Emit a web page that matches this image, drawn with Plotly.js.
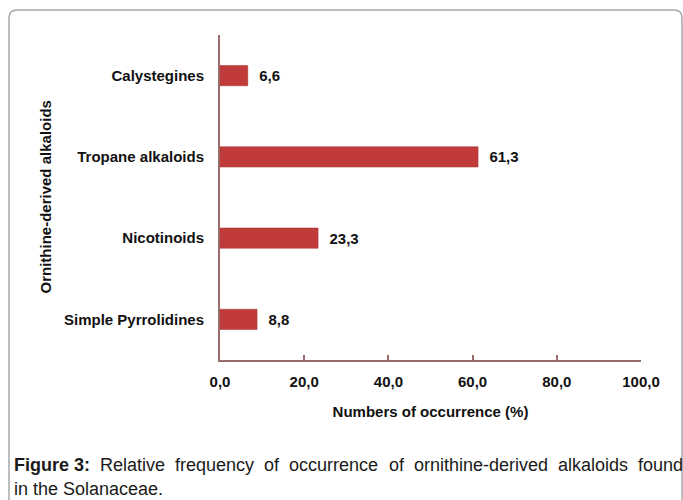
<!DOCTYPE html>
<html>
<head>
<meta charset="utf-8">
<script src="https://cdn.plot.ly/plotly-3.0.1.min.js"></script>
<style>html,body{margin:0;padding:0;background:#fff;}#chart{width:683px;height:500px;}</style>
</head>
<body>
<div id="chart"></div>
<script>
const categories = ['Simple Pyrrolidines', 'Nicotinoids', 'Tropane alkaloids', 'Calystegines'];
const values = [8.8, 23.3, 61.3, 6.6];
const xTicks = [0, 20, 40, 60, 80, 100];
const xTitle = 'Numbers of occurrence (%)';
const yTitle = 'Ornithine-derived alkaloids';
const captionWords1 = ['<b>Figure 3:</b>', 'Relative', 'frequency', 'of', 'occurrence', 'of', 'ornithine-derived', 'alkaloids', 'found'];
const captionLine2 = 'in the Solanaceae.';

const W = 683, H = 500;
const L = 220, R = 42, T = 35, B = 140;
const pw = W - L - R, ph = H - T - B;
const px = p => (p - L) / pw;
const py = p => (H - B - p) / ph;

const sans = '"Liberation Sans", Arial, sans-serif';
const axisCol = '#9a6b6b';
const capSize = 18;

// rounded border path in paper coords
const x0 = 9, x1 = 682, y0 = 10, y1 = 510, r = 8;
const path = `M ${px(x0)},${py(y1)} L ${px(x0)},${py(y0 + r)} Q ${px(x0)},${py(y0)} ${px(x0 + r)},${py(y0)} L ${px(x1 - r)},${py(y0)} Q ${px(x1)},${py(y0)} ${px(x1)},${py(y0 + r)} L ${px(x1)},${py(y1)}`;

// justified caption line 1: measure words and spread them between left and right edges
const ctx = document.createElement('canvas').getContext('2d');
const measure = w => {
  const bold = w.startsWith('<b>');
  ctx.font = (bold ? 'bold ' : '') + capSize + 'px "Liberation Sans", Arial, sans-serif';
  return ctx.measureText(w.replace(/<\/?b>/g, '')).width;
};
const capLeft = 12, capRight = 681;
const widths = captionWords1.map(measure);
const gap = (capRight - capLeft - widths.reduce((a, b) => a + b, 0)) / (captionWords1.length - 1);
let cx = capLeft;
const captionAnns = captionWords1.map((w, i) => {
  const a = {xref: 'paper', yref: 'paper', x: px(cx), y: py(465), text: w, showarrow: false, xanchor: 'left', yanchor: 'middle',
    font: {family: sans, size: capSize, color: '#1a1a1a'}};
  cx += widths[i] + gap;
  return a;
});

const trace = {
  type: 'bar',
  orientation: 'h',
  y: categories,
  x: values,
  width: 0.25,
  marker: {color: '#c13b3b', line: {color: '#a53232', width: 0.5}},
  texttemplate: '\u00a0\u00a0<b>%{x:.1f}</b>',
  textposition: 'outside',
  cliponaxis: false,
  textfont: {family: sans, size: 15, color: '#111'},
  hoverinfo: 'skip'
};

const layout = {
  width: W, height: H,
  margin: {l: L, r: R, t: T, b: B, pad: 0},
  paper_bgcolor: '#fff', plot_bgcolor: '#fff',
  separators: ',.',
  showlegend: false,
  font: {family: sans, color: '#111'},
  xaxis: {
    range: [0, 100],
    tickvals: xTicks,
    tickformat: '.1f',
    showgrid: false, zeroline: false,
    showline: true, linecolor: axisCol, linewidth: 2,
    ticks: 'inside', ticklen: 5, tickcolor: axisCol, tickwidth: 2,
    tickfont: {family: sans, size: 15, color: '#111', weight: 'bold'},
    ticklabelstandoff: 7,
    title: {text: '<b>' + xTitle + '</b>', font: {family: sans, size: 15, color: '#111'}, standoff: 17},
    fixedrange: true
  },
  yaxis: {
    showgrid: false, zeroline: false,
    showline: true, linecolor: axisCol, linewidth: 2,
    ticks: '',
    tickfont: {family: sans, size: 15, color: '#111', weight: 'bold'},
    ticklabelstandoff: 11,
    fixedrange: true
  },
  shapes: [{type: 'path', xref: 'paper', yref: 'paper', path: path, line: {color: '#a8a8a8', width: 1.5}, fillcolor: 'rgba(0,0,0,0)'}],
  annotations: [
    {xref: 'paper', yref: 'paper', x: px(45), y: 0.5, text: '<b>' + yTitle + '</b>', textangle: -90, showarrow: false,
     font: {family: sans, size: 15, color: '#111'}, xanchor: 'center', yanchor: 'middle'},
    ...captionAnns,
    {xref: 'paper', yref: 'paper', x: px(capLeft), y: py(489), text: captionLine2, showarrow: false, xanchor: 'left', yanchor: 'middle',
     font: {family: sans, size: capSize, color: '#1a1a1a'}}
  ]
};

Plotly.newPlot('chart', [trace], layout, {displayModeBar: false, staticPlot: true});
</script>
</body>
</html>
